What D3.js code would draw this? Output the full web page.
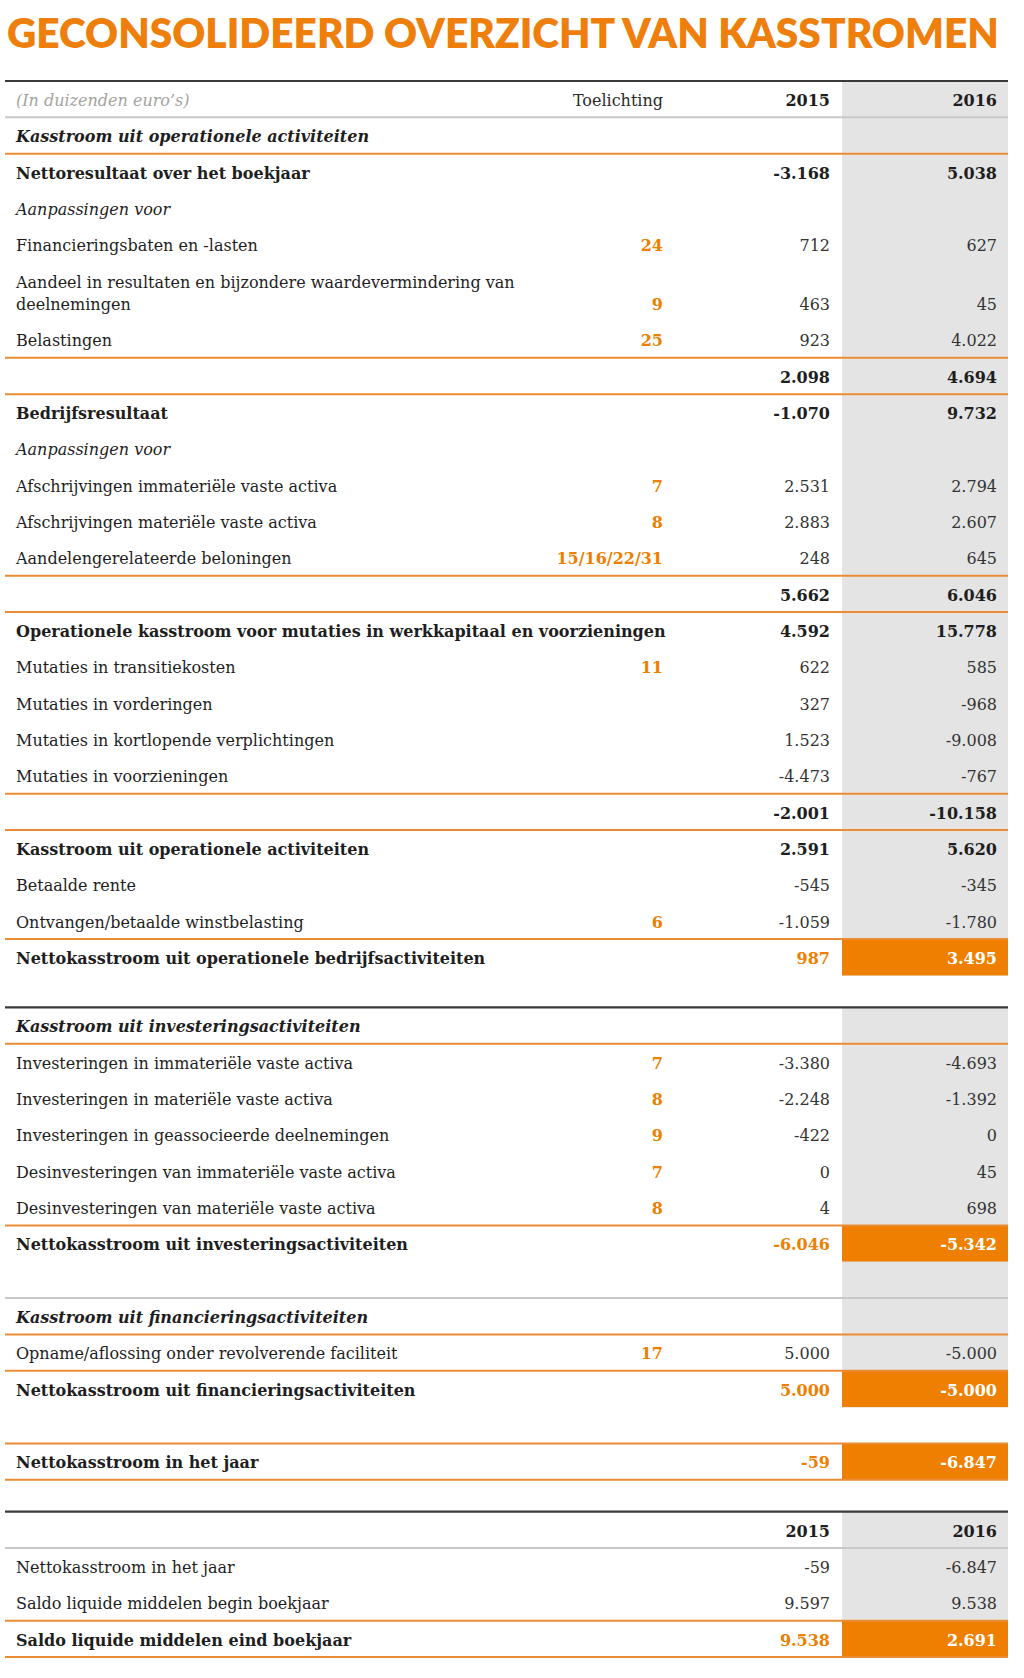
<!DOCTYPE html>
<html><head><meta charset="utf-8">
<script src="https://cdn.jsdelivr.net/npm/d3@7"></script>
<style>html,body{margin:0;padding:0;background:#fff}</style>
</head><body><svg id="c" width="1024" height="1678"></svg>
<script>
const title = "GECONSOLIDEERD OVERZICHT VAN KASSTROMEN";
const unitLabel = "(In duizenden euro’s)";
const noteHeader = "Toelichting";
const years = ["2015", "2016"];

const rowKinds = [
  "header1","section","bold","italic","normal","normal2","normal","sub",
  "bold","italic","normal","normal","normal","sub",
  "bold","normal","normal","normal","normal","sub",
  "bold","normal","normal","total",
  "spacer",
  "sectionDark","normal","normal","normal","normal","normal","total",
  "spacerGray",
  "sectionGray","normal","total",
  "spacerWhite",
  "grand",
  "spacer",
  "header2","normal","normal","grand"
];
const rowLabels = [
  unitLabel,
  "Kasstroom uit operationele activiteiten",
  "Nettoresultaat over het boekjaar",
  "Aanpassingen voor",
  "Financieringsbaten en -lasten",
  "Aandeel in resultaten en bijzondere waardevermindering van\ndeelnemingen",
  "Belastingen",
  "",
  "Bedrijfsresultaat",
  "Aanpassingen voor",
  "Afschrijvingen immateriële vaste activa",
  "Afschrijvingen materiële vaste activa",
  "Aandelengerelateerde beloningen",
  "",
  "Operationele kasstroom voor mutaties in werkkapitaal en voorzieningen",
  "Mutaties in transitiekosten",
  "Mutaties in vorderingen",
  "Mutaties in kortlopende verplichtingen",
  "Mutaties in voorzieningen",
  "",
  "Kasstroom uit operationele activiteiten",
  "Betaalde rente",
  "Ontvangen/betaalde winstbelasting",
  "Nettokasstroom uit operationele bedrijfsactiviteiten",
  "",
  "Kasstroom uit investeringsactiviteiten",
  "Investeringen in immateriële vaste activa",
  "Investeringen in materiële vaste activa",
  "Investeringen in geassocieerde deelnemingen",
  "Desinvesteringen van immateriële vaste activa",
  "Desinvesteringen van materiële vaste activa",
  "Nettokasstroom uit investeringsactiviteiten",
  "",
  "Kasstroom uit financieringsactiviteiten",
  "Opname/aflossing onder revolverende faciliteit",
  "Nettokasstroom uit financieringsactiviteiten",
  "",
  "Nettokasstroom in het jaar",
  "",
  "",
  "Nettokasstroom in het jaar",
  "Saldo liquide middelen begin boekjaar",
  "Saldo liquide middelen eind boekjaar"
];
const rowNotes = [
  noteHeader,"","","","24","9","25","",
  "","","7","8","15/16/22/31","",
  "","11","","","","",
  "","","6","",
  "",
  "","7","8","9","7","8","",
  "",
  "","17","",
  "",
  "",
  "",
  "","","",""
];
const values2015 = [
  null,null,-3168,null,712,463,923,2098,
  -1070,null,2531,2883,248,5662,
  4592,622,327,1523,-4473,-2001,
  2591,-545,-1059,987,
  null,
  null,-3380,-2248,-422,0,4,-6046,
  null,
  null,5000,5000,
  null,
  -59,
  null,
  null,-59,9597,9538
];
const values2016 = [
  null,null,5038,null,627,45,4022,4694,
  9732,null,2794,2607,645,6046,
  15778,585,-968,-9008,-767,-10158,
  5620,-345,-1780,3495,
  null,
  null,-4693,-1392,0,45,698,-5342,
  null,
  null,-5000,-5000,
  null,
  -6847,
  null,
  null,-6847,9538,2691
];

const ORANGE = "#ee7f00";
const TITLE_ORANGE = "#ef7f0c";
const GRAY_COL = "#e4e4e4";
const FONT = "'DejaVu Serif', serif";
const FS = 16;
const PITCH = 36.33, EXTRA = 22.5, GAP = 32;

const nl = d3.formatLocale({decimal: ",", thousands: ".", grouping: [3], currency: ["€", ""], minus: "-"});
const fmt = nl.format(",d");

const svg = d3.select("#c");

// title, scaled horizontally to the reference width
const tG = svg.append("g");
const tT = tG.append("text")
  .attr("x", 0).attr("y", 0)
  .style("font-family", "Lato, 'Open Sans', sans-serif")
  .style("font-weight", 800).style("font-size", "41.5px")
  .attr("fill", TITLE_ORANGE)
  .text(title);
const natW = tT.node().getComputedTextLength();
tG.attr("transform", `translate(7,48) scale(${992 / natW},1)`);

// rows
const rows = rowKinds.map((k, i) => ({
  kind: k, label: rowLabels[i], note: rowNotes[i], v15: values2015[i], v16: values2016[i]
}));
let yAcc = 81;
rows.forEach(r => {
  let h = PITCH;
  if (r.kind === "spacer") h = GAP;
  if (r.kind === "normal2") h = PITCH + EXTRA;
  r.y0 = yAcc; r.h = h; yAcc += h;
});

const col = d3.scaleOrdinal().domain(["label", "note", "v15", "v16"]).range([16, 663, 830, 997]);
const grayX = d3.scaleLinear().domain([0, 1]).range([842, 1008]);
const ruleX = d3.scaleLinear().domain([0, 1]).range([5, 1008]);

const gFill = svg.append("g"), gLine = svg.append("g"), gText = svg.append("g");

rows.forEach(r => {
  const k = r.kind;
  if (k !== "spacer" && k !== "spacerWhite") {
    gFill.append("rect").attr("x", grayX(0)).attr("y", r.y0)
      .attr("width", grayX(1) - grayX(0)).attr("height", r.h + 0.5).attr("fill", GRAY_COL);
  }
  if (k === "total" || k === "grand") {
    gFill.append("rect").attr("x", grayX(0)).attr("y", r.y0)
      .attr("width", grayX(1) - grayX(0)).attr("height", r.h).attr("fill", ORANGE);
  }
  const rule = (y, c, w) => gLine.append("line").attr("x1", ruleX(0)).attr("x2", ruleX(1))
    .attr("y1", y).attr("y2", y).attr("stroke", c).attr("stroke-width", w);
  if (k === "header1" || k === "header2" || k === "sectionDark") rule(r.y0, "#3a3a3a", 2.2);
  if (k === "header1" || k === "header2") rule(r.y0 + r.h, "#c8c8c8", 2);
  if (k === "sectionGray") rule(r.y0, "#c8c8c8", 2);
  if (k.startsWith("section")) rule(r.y0 + r.h, "#ea8c34", 2);
  if (k === "sub" || k === "total" || k === "grand") rule(r.y0, "#ea8c34", 2);
  if (k === "sub" || k === "grand") rule(r.y0 + r.h, "#ea8c34", 2);

  // text
  const lastC = r.y0 + r.h - PITCH / 2;
  const base = c => c + 0.42 * FS;
  const txt = (x, c, s, o) => gText.append("text").attr("x", x).attr("y", base(c))
    .attr("text-anchor", o.anchor || "start")
    .style("font-family", FONT).style("font-size", FS + "px")
    .style("font-weight", o.bold ? "bold" : "normal")
    .style("font-style", o.italic ? "italic" : "normal")
    .attr("fill", o.fill || "#1e1e1e").text(s);

  if (r.label) {
    const lines = r.label.split("\n");
    const isBold = ["section", "sectionDark", "sectionGray", "bold", "total", "grand"].includes(k);
    const isItal = ["section", "sectionDark", "sectionGray", "italic", "header1"].includes(k);
    lines.forEach((ln, j) => txt(col("label"), r.y0 + PITCH / 2 + j * EXTRA, ln,
      {bold: isBold, italic: isItal, fill: k === "header1" ? "#a3a3a3" : "#1e1e1e"}));
  }
  if (r.note) {
    if (k === "header1") txt(col("note"), lastC, r.note, {anchor: "end", fill: "#2a2a2a"});
    else txt(col("note"), lastC, r.note, {anchor: "end", bold: true, fill: ORANGE});
  }
  if (k === "header1" || k === "header2") {
    txt(col("v15"), lastC, years[0], {anchor: "end", bold: true});
    txt(col("v16"), lastC, years[1], {anchor: "end", bold: true});
  }
  const boldVals = ["bold", "sub", "total", "grand"].includes(k);
  if (r.v15 !== null) {
    txt(col("v15"), lastC, fmt(r.v15), {anchor: "end", bold: boldVals,
      fill: (k === "total" || k === "grand") ? ORANGE : (boldVals ? "#1e1e1e" : "#333")});
  }
  if (r.v16 !== null) {
    txt(col("v16"), lastC, fmt(r.v16), {anchor: "end", bold: boldVals,
      fill: (k === "total" || k === "grand") ? "#ffffff" : (boldVals ? "#1e1e1e" : "#333")});
  }
});
</script>
</body></html>
